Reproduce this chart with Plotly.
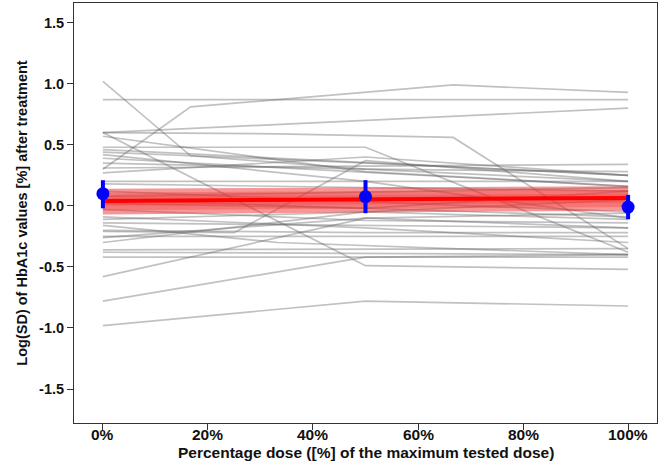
import plotly.graph_objects as go

# ---- data -------------------------------------------------------------
# individual study trajectories: dose fraction (x) and Log(SD) values (y)
study_x = [
    [0, 0.167, 0.5, 1], [0, 0.167, 0.667, 1], [0, 1], [0, 1],
    [0, 0.333, 0.667, 1], [0, 0.5, 1], [0, 0.5, 1], [0, 1],
    [0, 0.5, 1], [0, 1], [0, 0.5, 1], [0, 1],
    [0, 0.5, 1], [0, 1], [0, 0.5, 1], [0, 1],
    [0, 1], [0, 0.5, 1], [0, 0.5, 1], [0, 0.5, 1],
    [0, 1], [0, 0.333, 1], [0, 0.5, 1], [0, 0.25, 0.5, 1],
    [0, 1], [0, 0.5, 1], [0, 0.5, 1], [0, 1],
    [0, 1], [0, 1], [0, 0.5, 1], [0, 0.5, 1],
    [0, 0.5, 1], [0, 0.5, 1], [0, 0.333, 1], [0, 0.667, 1],
    [0, 0.5, 1],
]
study_y = [
    [1.02, 0.41, 0.30, 0.20], [0.30, 0.81, 0.99, 0.93], [0.87, 0.87], [0.60, 0.80],
    [0.60, 0.59, 0.56, -0.35], [0.60, -0.49, -0.52], [0.48, 0.48, -0.38], [0.46, 0.25],
    [0.42, 0.20, -0.10], [0.39, 0.16], [0.35, 0.30, 0.28], [0.31, 0.34],
    [0.27, 0.40, 0.25], [0.20, 0.20], [0.18, 0.15, 0.12], [0.12, -0.05],
    [0.05, -0.09], [-0.03, -0.12, -0.14], [-0.09, -0.18, -0.30], [-0.11, -0.05, -0.11],
    [-0.14, -0.18], [-0.16, -0.30, -0.40], [-0.20, -0.22, -0.22], [-0.21, -0.22, 0.37, 0.20],
    [-0.25, -0.25], [-0.26, -0.10, -0.06], [-0.30, -0.05, 0.05], [-0.36, -0.35],
    [-0.38, -0.40], [-0.42, -0.42], [-0.58, -0.10, -0.18], [-0.78, -0.42, -0.40],
    [-0.98, -0.78, -0.82], [0.02, -0.02, 0.12], [0.08, 0.10, 0.15], [0.44, 0.32, 0.25],
    [0.57, 0.28, 0.16],
]

# model fit (red) and credible bands
fit_x = [0, 1]
fit_y = [0.04, 0.065]
band_outer_lo = [-0.07, -0.04]
band_outer_hi = [0.14, 0.16]
band_mid_lo = [-0.035, -0.01]
band_mid_hi = [0.11, 0.13]
band_in_lo = [0.0, 0.025]
band_in_hi = [0.08, 0.10]

# observed means with intervals (blue)
obs_x = [0, 0.5, 1]
obs_y = [0.10, 0.075, -0.01]
obs_lo = [-0.02, -0.06, -0.11]
obs_hi = [0.21, 0.21, 0.09]

x_tickvals = [0, 0.2, 0.4, 0.6, 0.8, 1.0]
x_ticktext = ["0%", "20%", "40%", "60%", "80%", "100%"]
y_tickvals = [-1.5, -1.0, -0.5, 0.0, 0.5, 1.0, 1.5]
y_ticktext = ["-1.5", "-1.0", "-0.5", "0.0", "0.5", "1.0", "1.5"]

x_title = "Percentage dose ([%] of the maximum tested dose)"
y_title = "Log(SD) of HbA1c values [%] after treatment"

x_range = [-0.055, 1.055]
y_range = [-1.778, 1.661]

# ---- figure -----------------------------------------------------------
fig = go.Figure()

for xs, ys in zip(study_x, study_y):
    fig.add_trace(go.Scatter(x=xs, y=ys, mode="lines",
                             line=dict(color="rgba(100,100,100,0.4)", width=1.7),
                             hoverinfo="skip", showlegend=False))

for lo, hi, a in [(band_outer_lo, band_outer_hi, 0.5),
                  (band_mid_lo, band_mid_hi, 0.3),
                  (band_in_lo, band_in_hi, 0.25)]:
    fig.add_trace(go.Scatter(x=fit_x, y=lo, mode="lines", line=dict(width=0),
                             hoverinfo="skip", showlegend=False))
    fig.add_trace(go.Scatter(x=fit_x, y=hi, mode="lines", line=dict(width=0),
                             fill="tonexty", fillcolor=f"rgba(238,45,45,{a})",
                             hoverinfo="skip", showlegend=False))

fig.add_trace(go.Scatter(x=fit_x, y=fit_y, mode="lines",
                         line=dict(color="#ff0000", width=4),
                         showlegend=False))

fig.add_trace(go.Scatter(
    x=obs_x, y=obs_y, mode="markers",
    marker=dict(color="#0000ff", size=13),
    error_y=dict(type="data", symmetric=False,
                 array=[h - m for h, m in zip(obs_hi, obs_y)],
                 arrayminus=[m - l for m, l in zip(obs_y, obs_lo)],
                 color="#0000ff", thickness=4, width=0),
    showlegend=False))

fam = "Liberation Sans, Arial, sans-serif"
font_x = dict(family=fam, size=15.5, color="#111111", weight="bold")
font_y = dict(family=fam, size=14.5, color="#111111", weight="bold")

# x tick labels placed close to the axis (as in the original R graphic)
for v, t in zip(x_tickvals, x_ticktext):
    fig.add_annotation(x=v, xref="x", y=0, yref="paper", yshift=-11,
                       yanchor="middle", xanchor="center", showarrow=False,
                       text=t, font=font_x)
fig.add_annotation(x=0.5, xref="paper", y=0, yref="paper", yshift=-29,
                   yanchor="middle", xanchor="center", showarrow=False,
                   text=x_title, font=font_x)

fig.update_layout(
    width=661, height=468,
    margin=dict(l=74, r=4, t=3, b=45),
    paper_bgcolor="white", plot_bgcolor="white",
    font=font_y,
    xaxis=dict(range=x_range, tickvals=x_tickvals, showticklabels=False,
               showgrid=False, zeroline=False, showline=True, mirror=True,
               linecolor="#333333", linewidth=1, ticks="outside", ticklen=6,
               tickcolor="#333333"),
    yaxis=dict(range=y_range, tickvals=y_tickvals, ticktext=y_ticktext,
               showgrid=False, zeroline=False, showline=True, mirror=True,
               linecolor="#333333", linewidth=1, ticks="outside", ticklen=6,
               tickcolor="#333333", tickfont=font_y,
               title=dict(text=y_title, font=font_y, standoff=8)),
)

fig.write_html("out.html")
